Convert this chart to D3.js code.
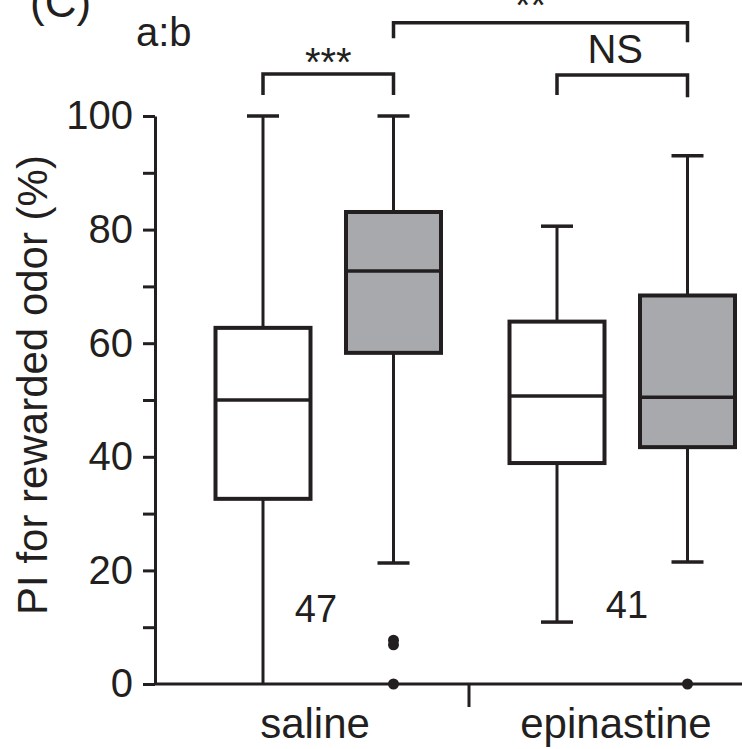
<!DOCTYPE html>
<html>
<head>
<meta charset="utf-8">
<script src="https://cdn.jsdelivr.net/npm/d3@7"></script>
<style>
  body { margin: 0; background: #fff; }
  text { font-family: "Liberation Sans", Arial, Helvetica, sans-serif; fill: #231f20; }
</style>
</head>
<body>
<svg id="chart" width="742" height="749"></svg>
<script>
// groups on the x axis and the two odors within each group
const groups = ["saline", "epinastine"];
const odors = ["a", "b"];

// box stats (PI %)
const boxes = [
  { group: "saline",     odor: "a", low: 0,    q1: 32.6, median: 50.0, q3: 62.7, high: 100 },
  { group: "saline",     odor: "b", low: 21.3, q1: 58.3, median: 72.7, q3: 83.1, high: 100 },
  { group: "epinastine", odor: "a", low: 10.9, q1: 38.9, median: 50.7, q3: 63.8, high: 80.6 },
  { group: "epinastine", odor: "b", low: 21.5, q1: 41.7, median: 50.5, q3: 68.4, high: 93.0 }
];

// outliers
const outliers = [
  { group: "saline", odor: "b", value: 7.7 },
  { group: "saline", odor: "b", value: 6.9 },
  { group: "saline", odor: "b", value: 0 },
  { group: "epinastine", odor: "b", value: 0 }
];

// sample sizes
const nLabels = [
  { group: "saline", n: "47", value: 11 },
  { group: "epinastine", n: "41", value: 11.7 }
];

// significance brackets: from box to box, bar height and label
const brackets = [
  { from: ["saline", "a"], to: ["saline", "b"], level: 107.4, legL: 103.7, legR: 103.7, label: "***" },
  { from: ["saline", "b"], to: ["epinastine", "b"], level: 116.4, legL: 113.7, legR: 113.0, label: "**" },
  { from: ["epinastine", "a"], to: ["epinastine", "b"], level: 107.2, legL: 103.7, legR: 103.3, label: "NS" }
];

const yTicks = d3.range(0, 101, 10);

const ink = "#231f20";
const grey = "#a7a9ac";

const svg = d3.select("#chart");

const y = d3.scaleLinear().domain([0, 100]).range([684, 116]);

const x0 = d3.scaleBand().domain(groups).range([175, 763]);
const x1 = d3.scalePoint().domain(odors).range([-59, 71.5]);
const boxW = 95;

function cx(g, o) { return x0(g) + x0.bandwidth() / 2 + x1(o); }
function mid(g) { return x0(g) + x0.bandwidth() / 2; }

// y axis
const yAxis = svg.append("g")
  .attr("transform", "translate(155,0)")
  .call(d3.axisLeft(y).tickValues(yTicks).tickSize(12).tickSizeOuter(0)
    .tickFormat(d => d % 20 === 0 ? d : ""));
yAxis.select(".domain").attr("stroke", ink).attr("stroke-width", 3);
yAxis.selectAll(".tick line").attr("stroke", ink).attr("stroke-width", 3);
yAxis.selectAll(".tick text")
  .attr("x", -22)
  .attr("font-size", 40)
  .attr("font-family", "Liberation Sans, Arial, sans-serif")
  .attr("fill", ink);

// x axis line
svg.append("line")
  .attr("x1", 155).attr("x2", 742)
  .attr("y1", y(0)).attr("y2", y(0))
  .attr("stroke", ink).attr("stroke-width", 3);

// divider tick between groups
svg.append("line")
  .attr("x1", x0("epinastine")).attr("x2", x0("epinastine"))
  .attr("y1", y(0)).attr("y2", y(0) + 23)
  .attr("stroke", ink).attr("stroke-width", 3);

svg.selectAll(".xlabel")
  .data(groups)
  .enter().append("text")
  .attr("class", "xlabel")
  .attr("x", d => mid(d) + (d === "saline" ? -7 : 0))
  .attr("y", 738)
  .attr("text-anchor", "middle")
  .attr("font-size", 42)
  .text(d => d);

// y title
svg.append("text")
  .attr("transform", "translate(47,385) rotate(-90)")
  .attr("text-anchor", "middle")
  .attr("font-size", 42)
  .text("PI for rewarded odor (%)");

// boxes
const box = svg.selectAll(".box")
  .data(boxes)
  .enter().append("g")
  .attr("class", "box")
  .attr("transform", d => "translate(" + cx(d.group, d.odor) + ",0)");

box.append("line")
  .attr("y1", d => y(d.high)).attr("y2", d => y(d.q3))
  .attr("stroke", ink).attr("stroke-width", 3);
box.append("line")
  .attr("y1", d => y(d.q1)).attr("y2", d => y(d.low))
  .attr("stroke", ink).attr("stroke-width", 3);
box.append("line")
  .attr("x1", -16).attr("x2", 16)
  .attr("y1", d => y(d.high)).attr("y2", d => y(d.high))
  .attr("stroke", ink).attr("stroke-width", 3.5);
box.filter(d => d.low > 0).append("line")
  .attr("x1", -16).attr("x2", 16)
  .attr("y1", d => y(d.low)).attr("y2", d => y(d.low))
  .attr("stroke", ink).attr("stroke-width", 3.5);
box.append("rect")
  .attr("x", -boxW / 2).attr("width", boxW)
  .attr("y", d => y(d.q3))
  .attr("height", d => y(d.q1) - y(d.q3))
  .attr("fill", d => d.odor === "b" ? grey : "#fff")
  .attr("stroke", ink).attr("stroke-width", 4);
box.append("line")
  .attr("x1", -boxW / 2).attr("x2", boxW / 2)
  .attr("y1", d => y(d.median)).attr("y2", d => y(d.median))
  .attr("stroke", ink).attr("stroke-width", 3.5);

// outliers
svg.selectAll(".outlier")
  .data(outliers)
  .enter().append("circle")
  .attr("class", "outlier")
  .attr("cx", d => cx(d.group, d.odor))
  .attr("cy", d => y(d.value))
  .attr("r", 5.5)
  .attr("fill", ink);

// sample sizes
svg.selectAll(".nlab")
  .data(nLabels)
  .enter().append("text")
  .attr("class", "nlab")
  .attr("x", d => mid(d.group) + (d.group === "saline" ? -6 : 11))
  .attr("y", d => y(d.value))
  .attr("text-anchor", "middle")
  .attr("font-size", 38)
  .text(d => d.n);

// significance brackets
const br = svg.selectAll(".bracket")
  .data(brackets)
  .enter().append("g")
  .attr("class", "bracket");

br.append("path")
  .attr("d", d => {
    const xa = cx(d.from[0], d.from[1]), xb = cx(d.to[0], d.to[1]);
    return "M" + xa + "," + y(d.legL) + "V" + y(d.level) + "H" + xb + "V" + y(d.legR);
  })
  .attr("fill", "none")
  .attr("stroke", ink)
  .attr("stroke-width", 3.5);

br.append("text")
  .attr("x", d => (cx(d.from[0], d.from[1]) + cx(d.to[0], d.to[1])) / 2 + (d.label === "**" ? -10 : d.label === "NS" ? -7 : 0))
  .attr("y", d => d.label === "NS" ? y(d.level) - 12 : d.label === "**" ? y(d.level) - 4 : y(d.level) + 2)
  .attr("text-anchor", "middle")
  .attr("font-size", 40)
  .text(d => d.label);

// panel letter and ratio tag
svg.append("text")
  .attr("x", 30).attr("y", 17)
  .attr("font-size", 44)
  .text("(C)");

svg.append("text")
  .attr("x", 136).attr("y", 46)
  .attr("font-size", 40)
  .text("a:b");
</script>
</body>
</html>
